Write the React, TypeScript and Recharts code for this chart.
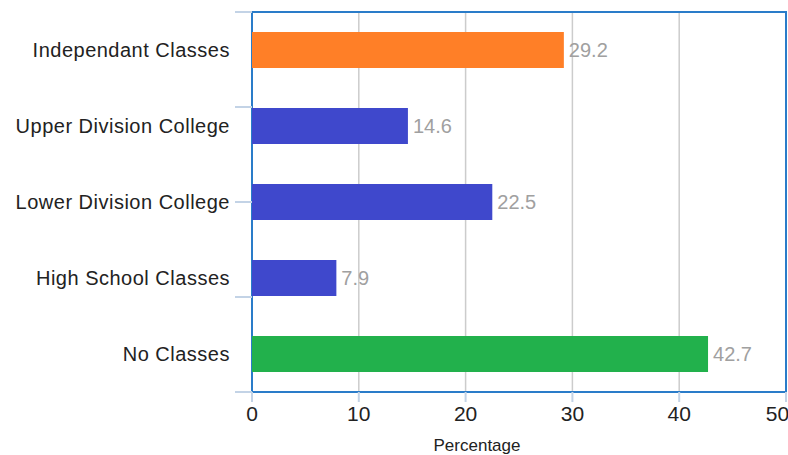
import React from 'react';
import { BarChart, Bar, XAxis, YAxis, CartesianGrid, LabelList, Cell, ReferenceArea } from 'recharts';

const categories = ['Independant Classes', 'Upper Division College', 'Lower Division College', 'High School Classes', 'No Classes'];
const values = [29.2, 14.6, 22.5, 7.9, 42.7];
const colors = ['#FF7F27', '#3F48CC', '#3F48CC', '#3F48CC', '#22B14C'];
const xTicks = [0, 10, 20, 30, 40, 50];
const boundaryTicks = [0, 1, 2, 3, 4, 5];

const data = categories.map((c, i) => ({ name: c, value: values[i] }));

const FONT = '"Liberation Sans", Arial, sans-serif';
const TICK_COLOR = '#c3d3e6';

export default function App() {
  return (
    <div style={{ width: 788, height: 455, fontFamily: FONT, overflow: 'hidden' }}>
      <style>{'html,body{margin:0;padding:0;overflow:hidden;}'}</style>
      <BarChart
        width={788}
        height={455}
        data={data}
        layout="vertical"
        margin={{ top: 12, right: 2, left: 0, bottom: 0 }}
        barCategoryGap={20}
      >
        <CartesianGrid horizontal={false} stroke="#cccccc" strokeWidth={1.5} yAxisId="cat" />
        <XAxis
          type="number"
          domain={[0, 50]}
          ticks={xTicks}
          height={63}
          axisLine={false}
          tickLine={{ stroke: TICK_COLOR, strokeWidth: 2 }}
          tickSize={10}
          tickMargin={4}
          tick={{ fill: '#222', fontSize: 21, fontFamily: FONT }}
          label={(props: any) => (
            <text x={477} y={451} textAnchor="middle" fill="#222" fontSize={17} fontFamily={FONT}>
              Percentage
            </text>
          )}
        />
        <YAxis
          yAxisId="bounds"
          type="number"
          domain={[0, 5]}
          ticks={boundaryTicks}
          interval={0}
          minTickGap={0}
          reversed
          width={1}
          axisLine={false}
          tick={() => <g />}
          tickLine={{ stroke: TICK_COLOR, strokeWidth: 2 }}
          tickSize={17}
        />
        <YAxis
          yAxisId="cat"
          type="category"
          dataKey="name"
          width={251}
          interval={0}
          axisLine={false}
          tickLine={false}
          tickSize={16}
          tickMargin={5}
          tick={{ fill: '#222', fontSize: 20, fontFamily: FONT, letterSpacing: 0.5 }}
        />
        <ReferenceArea yAxisId="cat" x1={0} x2={50} fill="none" stroke="#2a7cc9" strokeWidth={2} ifOverflow="visible" />
        <Bar yAxisId="cat" dataKey="value" isAnimationActive={false} barSize={36}>
          {data.map((d, i) => (
            <Cell key={i} fill={colors[i]} />
          ))}
          <LabelList dataKey="value" position="right" offset={5} fill="#a0a0a0" fontSize={20} fontFamily={FONT} />
        </Bar>
      </BarChart>
    </div>
  );
}
